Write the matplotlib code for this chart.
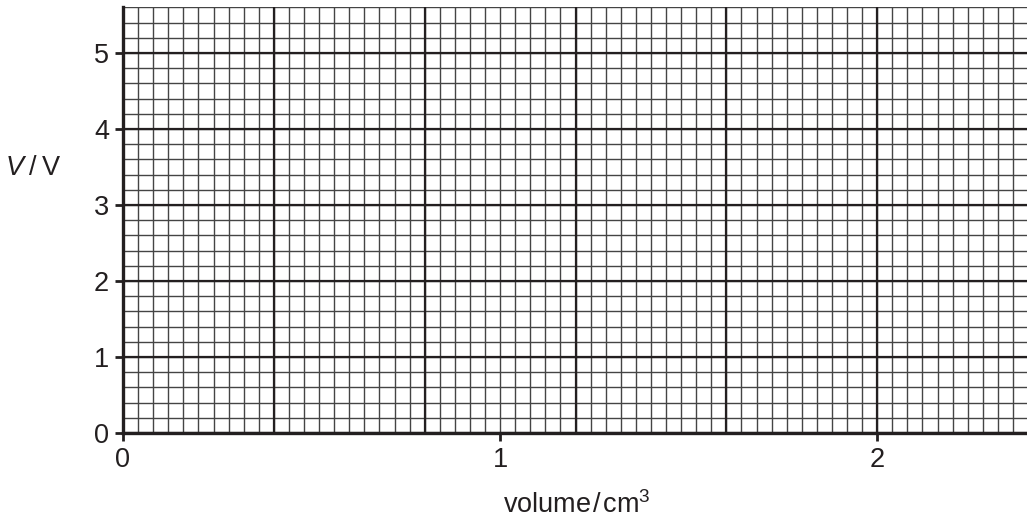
import matplotlib
matplotlib.use("Agg")
import matplotlib.pyplot as plt
import numpy as np
from matplotlib.ticker import FixedLocator

plt.rcParams['font.family'] = ['Liberation Sans', 'DejaVu Sans']
plt.rcParams['mathtext.fontset'] = 'custom'
plt.rcParams['mathtext.rm'] = 'Liberation Sans'
plt.rcParams['mathtext.it'] = 'Liberation Sans:italic'

x_ticks = [0, 1, 2]
y_ticks = [0, 1, 2, 3, 4, 5]
x_range = [0, 2.4]
y_range = [0, 5.6]
x_major_grid = 0.4
x_minor_grid = 0.04
y_major_grid = 1.0
y_minor_grid = 0.2
x_label = "volume\u200a/\u200acm$^3$"
y_label = "$\\mathit{V}$\u2009/\u2009V"

ink = '#231f20'
fs = 19.5
fig = plt.figure(figsize=(10.27, 5.19), dpi=100)
ax = fig.add_axes([123/1027, 86/519, (1028-123)/1027, (433-7.4)/519])
ax.set_xlim(*x_range)
ax.set_ylim(*y_range)

# minor grid
for xv in np.arange(x_range[0], x_range[1] + 1e-9, x_minor_grid):
    ax.axvline(xv, color='#444444', lw=1.0, zorder=1)
for yv in np.arange(y_range[0], y_range[1] + 1e-9, y_minor_grid):
    ax.axhline(yv, color='#444444', lw=1.0, zorder=1)
# major grid
for xv in np.arange(x_range[0], x_range[1] + 1e-9, x_major_grid):
    ax.axvline(xv, color=ink, lw=1.6, zorder=2)
for yv in np.arange(y_range[0], y_range[1] + 1e-9, y_major_grid):
    ax.axhline(yv, color=ink, lw=1.6, zorder=2)

ax.xaxis.set_major_locator(FixedLocator(x_ticks))
ax.yaxis.set_major_locator(FixedLocator(y_ticks))
ax.set_xticklabels([str(v) for v in x_ticks])
ax.set_yticklabels([str(v) for v in y_ticks])
ax.tick_params(axis='both', which='major', direction='out', length=6, width=2,
               color=ink, labelcolor=ink, labelsize=fs)
ax.tick_params(axis='y', pad=4)
ax.tick_params(axis='x', pad=4)

for s in ['top', 'right']:
    ax.spines[s].set_visible(False)
for s in ['left', 'bottom']:
    ax.spines[s].set_linewidth(2.4)
    ax.spines[s].set_color(ink)
    ax.spines[s].set_zorder(5)

fig.text(577/1027, 1 - 513/519, x_label, ha='center', va='baseline',
         fontsize=fs, color=ink)
fig.text(33/1027, 1 - 175/519, y_label, ha='center', va='baseline',
         fontsize=fs, color=ink)

fig.savefig("out.png", dpi=100)
